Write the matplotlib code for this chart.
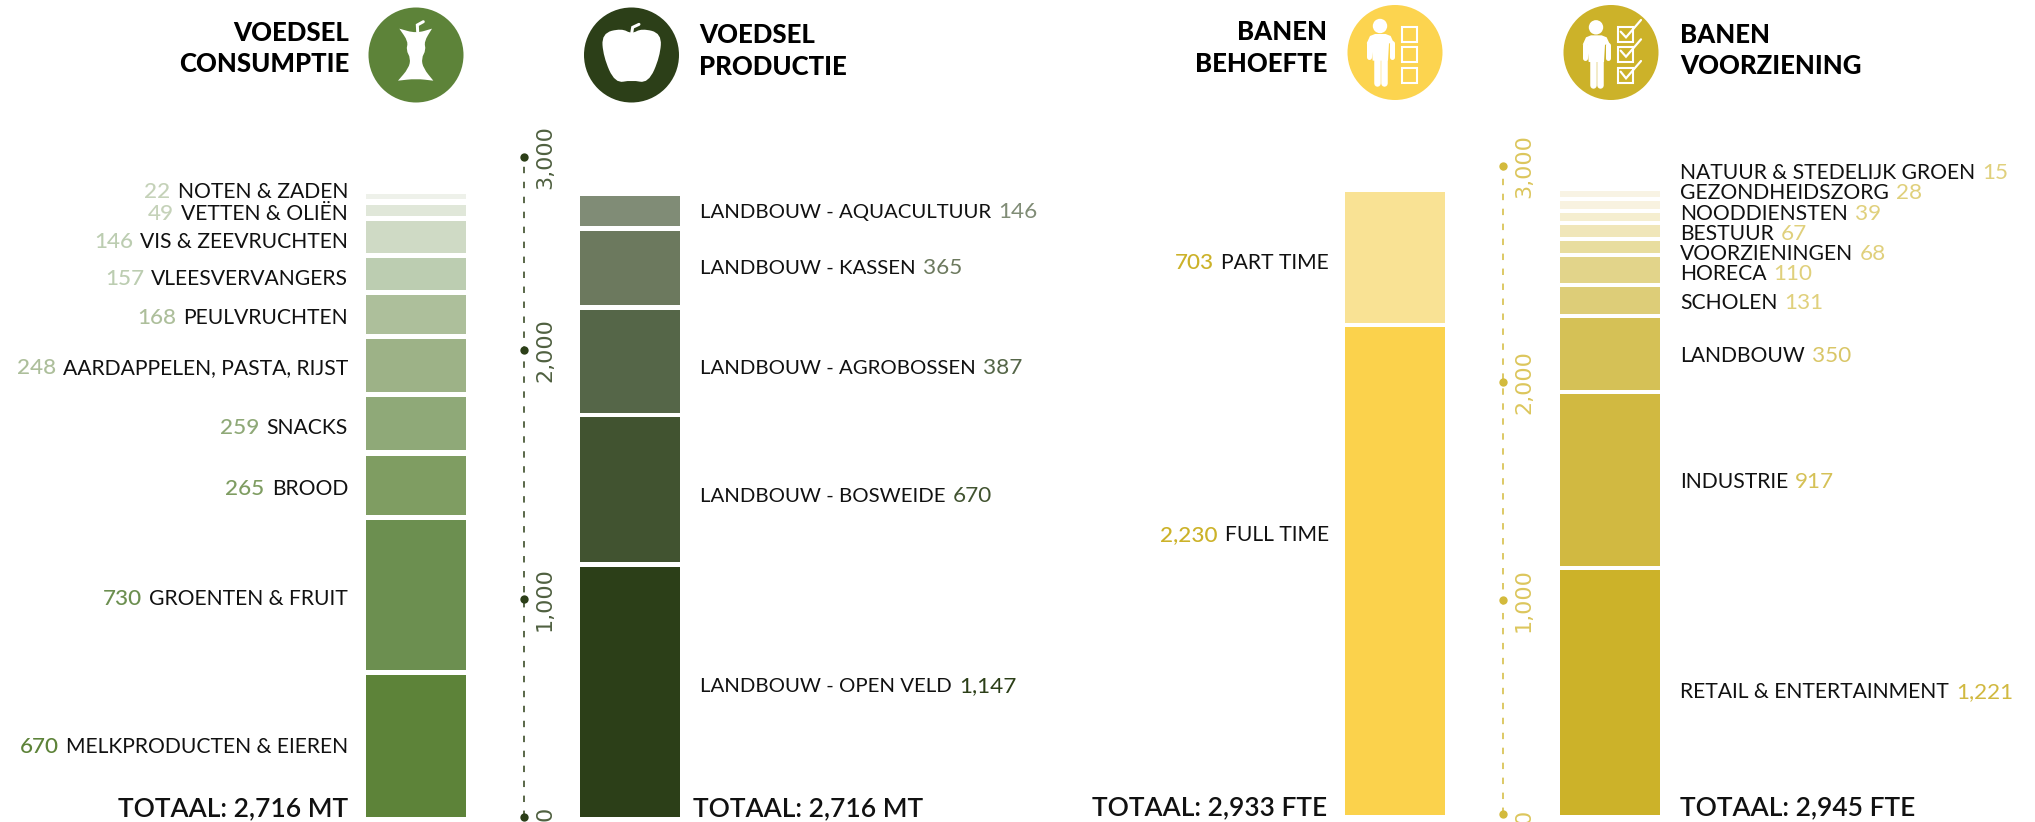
import numpy as np
import matplotlib
matplotlib.use('Agg')
import matplotlib.pyplot as plt
from matplotlib.path import Path
from matplotlib.patches import PathPatch, Circle, Rectangle

plt.rcParams['font.family'] = ['Lato', 'DejaVu Sans']

# ------------------------------
# 1. Data (bottom of the stack first)
# ------------------------------
cons_names = ['MELKPRODUCTEN & EIEREN', 'GROENTEN & FRUIT', 'BROOD', 'SNACKS',
              'AARDAPPELEN, PASTA, RIJST', 'PEULVRUCHTEN', 'VLEESVERVANGERS',
              'VIS & ZEEVRUCHTEN', 'VETTEN & OLIËN', 'NOTEN & ZADEN']
cons_values = ['670', '730', '265', '259', '248', '168', '157', '146', '49', '22']
cons_bars = [668, 706, 278, 249, 249, 182, 151, 151, 52, 26]   # lengths as drawn
cons_colors = ['#5d8339', '#6c8f50', '#7f9d62', '#8fa978', '#9db287',
               '#adbf9b', '#bccdb1', '#cfdac5', '#e0e7d9', '#eef1ea']
cons_num_colors = ['#5d8339', '#6c8f50', '#7f9d62', '#8fa978', '#adbf9b',
                   '#adbf9b', '#bccdb1', '#bccdb1', '#c5d2b9', '#c5d2b9']

prod_names = ['LANDBOUW - OPEN VELD', 'LANDBOUW - BOSWEIDE', 'LANDBOUW - AGROBOSSEN',
              'LANDBOUW - KASSEN', 'LANDBOUW - AQUACULTUUR']
prod_values = ['1,147', '670', '387', '365', '146']
prod_bars = [1176, 682, 485, 348, 141]
prod_colors = ['#2c3f18', '#415330', '#556648', '#6c795e', '#808c76']

need_names = ['FULL TIME', 'PART TIME']
need_values = ['2,230', '703']
need_bars = [2296, 616]
need_colors = ['#fbd24c', '#f9e294']
need_num_colors = ['#ccb229', '#ccb229']

supply_names = ['RETAIL & ENTERTAINMENT', 'INDUSTRIE', 'LANDBOUW', 'SCHOLEN', 'HORECA',
                'VOORZIENINGEN', 'BESTUUR', 'NOODDIENSTEN', 'GEZONDHEIDSZORG',
                'NATUUR & STEDELIJK GROEN']
supply_values = ['1,221', '917', '350', '131', '110', '68', '67', '39', '28', '15']
supply_bars = [1153, 809, 339, 127, 127, 56, 56, 38, 38, 28]
supply_colors = ['#ccb229', '#d1b941', '#d5c156', '#ddcd78', '#e2d48a',
                 '#e8dd9f', '#f0e6b9', '#f5eed0', '#f8f2e0', '#f8f3e4']
supply_num_colors = ['#d1b941', '#d5c156', '#d9c667', '#e0d07c', '#e0d07c',
                     '#e0d07c', '#e0d07c', '#e0d07c', '#e0d07c', '#e0d07c']

axis_ticks = [0, 1000, 2000, 3000]
axis_labels = ['0', '1,000', '2,000', '3,000']

# ------------------------------
# 2. Layout (pixels of the 2035x822 picture)
# ------------------------------
W, H = 2035, 822
PX_PER_UNIT = 0.2125
FOOD_BASE, JOB_BASE = 817, 815

cons_label_y = [747, 599, 489, 428, 368, 318, 279, 242, 214, 192]
prod_label_y = [686, 496, 368, 268, 212]
need_label_y = [535, 263]
supply_label_y = [692, 482, 356, 303, 274, 254, 234, 214, 193, 173]

food_axis_y = [817, 599, 350, 157]
job_axis_y = [814, 600, 382, 166]

fig = plt.figure(figsize=(W / 100, H / 100), dpi=100)

# ------------------------------
# 3. Stacked bars
# ------------------------------
def stack(x0, base, lengths, colors, gap):
    ax = fig.add_axes([x0 / W, (H - base) / H, 100 / W, base / H])
    ax.set_xlim(0, 1)
    ax.set_ylim(0, base / PX_PER_UNIT)
    ax.axis('off')
    bottom = 0
    for length, color in zip(lengths, colors):
        ax.bar(0, length, bottom=bottom, width=1, align='edge', color=color, linewidth=0)
        bottom += length + gap

stack(366, FOOD_BASE, cons_bars, cons_colors, 24.5)
stack(580, FOOD_BASE, prod_bars, prod_colors, 22.4)
stack(1345, JOB_BASE, need_bars, need_colors, 19)
stack(1560, JOB_BASE, supply_bars, supply_colors, 18.3)

# ------------------------------
# 4. Dashed value axes (their spacing is uneven in the original)
# ------------------------------
def value_axis(x0, pixel_y, color, text_color, zero_lift):
    base, top = pixel_y[0], pixel_y[-1]
    ax = fig.add_axes([x0 / W, (H - base) / H, 1 / W, (base - top) / H])
    px = -np.array(pixel_y, dtype=float)
    ax.set_yscale('function', functions=(lambda v: np.interp(v, axis_ticks, px),
                                         lambda p: np.interp(p, px, axis_ticks)))
    ax.set_ylim(0, 3000)
    ax.set_xlim(-1, 1)
    ax.axis('off')
    ax.plot([0, 0], [0, 3000], color=color, lw=1.1, dashes=(4.2, 5.6), clip_on=False)
    ax.plot([0] * len(axis_ticks), axis_ticks, 'o', color=color, ms=6, mew=0, clip_on=False)
    for tick, lab in zip(axis_ticks, axis_labels):
        lift = zero_lift if tick == 0 else 0
        ax.annotate(lab, xy=(0, tick), xytext=(15.5, lift), textcoords='offset points',
                    rotation=90, ha='center', va='center', fontsize=16, color=text_color,
                    family='DejaVu Sans', annotation_clip=False)

value_axis(523, food_axis_y, '#2c3f18', '#4f6040', 2.2)
value_axis(1502, job_axis_y, '#d3ba3c', '#dcc65c', -2)

# ------------------------------
# 5. Pixel overlay for texts and icons
# ------------------------------
ov = fig.add_axes([0, 0, 1, 1])
ov.set_xlim(0, W)
ov.set_ylim(H, 0)
ov.axis('off')
renderer = fig.canvas.get_renderer()

LABEL_SIZE = 15.2
NUM_SIZE = 16.2
TOTAL_SIZE = 19
TITLE_SIZE = 18.5
INK = '#111111'

def label_left(x, y, name, num, num_color, size=LABEL_SIZE):
    t = ov.text(x, y, name, ha='right', va='center', fontsize=size, color=INK)
    left = t.get_window_extent(renderer).x0
    ov.text(left - 7, y, num, ha='right', va='center', fontsize=NUM_SIZE, color=num_color, fontweight='medium')

def label_right(x, y, name, num, num_color, size=LABEL_SIZE):
    t = ov.text(x, y, name, ha='left', va='center', fontsize=size, color=INK)
    right = t.get_window_extent(renderer).x1
    ov.text(right + 7, y, num, ha='left', va='center', fontsize=NUM_SIZE, color=num_color)

for y, name, num, col in zip(cons_label_y, cons_names, cons_values, cons_num_colors):
    label_left(348, y, name, num, col)
for y, name, num, col in zip(prod_label_y, prod_names, prod_values, prod_colors):
    label_right(700, y, name, num, col, size=14.7)
for y, name, num, col in zip(need_label_y, need_names, need_values, need_num_colors):
    label_left(1329, y, name, num, col)
for y, name, num, col in zip(supply_label_y, supply_names, supply_values, supply_num_colors):
    label_right(1680, y, name, num, col)

ov.text(348, 809, 'TOTAAL: 2,716 MT', ha='right', va='center', fontsize=TOTAL_SIZE, color=INK, fontweight='semibold')
ov.text(693, 809, 'TOTAAL: 2,716 MT', ha='left', va='center', fontsize=TOTAL_SIZE, color=INK, fontweight='semibold')
ov.text(1327, 808, 'TOTAAL: 2,933 FTE', ha='right', va='center', fontsize=TOTAL_SIZE, color=INK, fontweight='semibold')
ov.text(1680, 808, 'TOTAAL: 2,945 FTE', ha='left', va='center', fontsize=TOTAL_SIZE, color=INK, fontweight='semibold')

titles = [(349, 33, 'VOEDSEL', 'right'), (349, 64, 'CONSUMPTIE', 'right'),
          (699, 35, 'VOEDSEL', 'left'), (699, 67, 'PRODUCTIE', 'left'),
          (1327, 32, 'BANEN', 'right'), (1327, 64, 'BEHOEFTE', 'right'),
          (1680, 35, 'BANEN', 'left'), (1680, 66, 'VOORZIENING', 'left')]
for x, y, s, ha in titles:
    ov.text(x, y, s, ha=ha, va='center', fontsize=TITLE_SIZE, fontweight='black', color='black')

# ------------------------------
# 6. Icons
# ------------------------------
def blob(pts, ox, oy=0):
    pts = np.array(pts, dtype=float) / 3 + [ox, oy]
    mids = (pts + np.roll(pts, -1, axis=0)) / 2
    verts, codes = [mids[-1]], [Path.MOVETO]
    for p, m in zip(pts, mids):
        verts += [p, m]
        codes += [Path.CURVE3, Path.CURVE3]
    ov.add_patch(PathPatch(Path(verts, codes), fc='white', ec='none', zorder=3))

def stroke(pts, ox, width, oy=0):
    pts = np.array(pts, dtype=float) / 3 + [ox, oy]
    ov.plot(pts[:, 0], pts[:, 1], color='white', lw=width * 0.72, solid_capstyle='round',
            solid_joinstyle='miter', zorder=3)

for cx, cy, col in [(416, 55, '#5d8339'), (631.5, 55, '#2c3f18'),
                    (1395, 52.5, '#fcd44f'), (1611, 52.5, '#ccb229')]:
    ov.add_patch(Circle((cx, cy), 47.5, fc=col, ec='none', zorder=2))

# apple core, coordinates relative to a 3x crop
blob([(178, 86), (178, 86), (228, 100), (276, 86), (276, 86), (252, 125), (258, 150), (244, 175),
      (250, 205), (280, 242), (280, 242), (228, 236), (174, 242), (174, 242), (206, 205),
      (212, 175), (198, 150), (205, 125)], 340)
stroke([(233, 95), (232, 75), (250, 65)], 340, 3)

# apple
blob([(875, 102), (905, 85), (965, 100), (960, 170), (925, 250), (875, 240),
      (825, 250), (790, 170), (785, 100), (845, 85)], 340)
stroke([(875, 100), (878, 82), (897, 73)], 340, 3)

def person(dx, dy):
    ox = 1330
    ov.add_patch(Circle((ox + (150 + dx) / 3, (78 + dy) / 3), 7.2, fc='white', ec='none', zorder=3))
    body = np.array([(110, 130), (120, 108), (135, 102), (167, 102), (182, 108), (192, 130),
                     (177, 130), (174, 182), (128, 182), (124, 130)], dtype=float)
    body = body / 3 + [ox + dx / 3, dy / 3]
    ov.fill(body[:, 0], body[:, 1], color='white', ec='none', zorder=3)
    stroke([(117 + dx, 130 + dy), (117 + dx, 170 + dy)], ox, 5)
    stroke([(185 + dx, 130 + dy), (185 + dx, 170 + dy)], ox, 5)
    stroke([(140 + dx, 180 + dy), (140 + dx, 250 + dy)], ox, 6.5)
    stroke([(162 + dx, 180 + dy), (162 + dx, 250 + dy)], ox, 6.5)

def box(x, y):
    ov.add_patch(Rectangle((1330 + x / 3, y / 3), 15, 15, fc='none', ec='white', lw=1.5, zorder=3))

person(0, 0)
for y in [80, 140, 203]:
    box(215, y)

person(648, 4)
for y in [80, 140, 203]:
    box(863, y)
stroke([(872, 95), (888, 112), (933, 60)], 1330, 2.2)
stroke([(872, 152), (888, 170), (933, 118)], 1330, 2.2)
stroke([(872, 215), (888, 235), (933, 183)], 1330, 2.2)

fig.savefig('out.png', dpi=100)
plt.close()
